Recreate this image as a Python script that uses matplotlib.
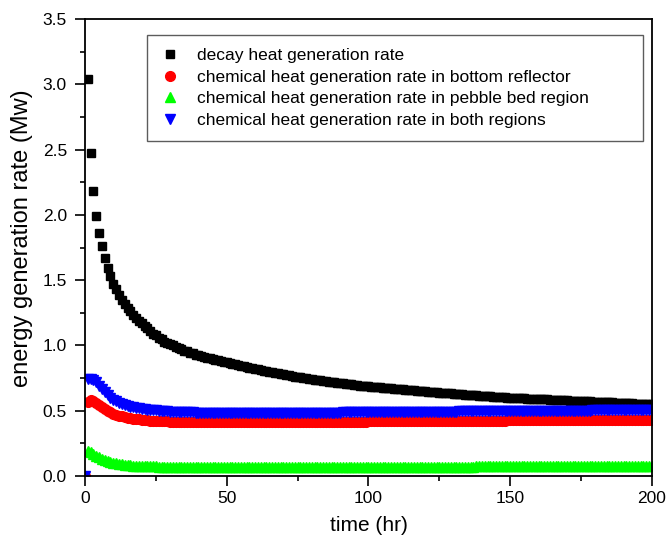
import matplotlib
matplotlib.use("Agg")
import matplotlib.pyplot as plt
from matplotlib.ticker import MultipleLocator

plt.rcParams['font.family'] = ['Liberation Sans', 'DejaVu Sans']

# time in hours
time_decay = list(range(1, 201))
time_chem = list(range(0, 201))

decay = [
    3.04, 2.47, 2.18, 1.99, 1.86, 1.76, 1.67, 1.59, 1.53, 1.47,
    1.43, 1.39, 1.35, 1.32, 1.29, 1.26, 1.23, 1.21, 1.19, 1.17,
    1.15, 1.13, 1.11, 1.09, 1.08, 1.06, 1.05, 1.03, 1.02, 1.01,
    1.00, 0.99, 0.98, 0.97, 0.96, 0.955, 0.945, 0.94, 0.93, 0.925,
    0.92, 0.91, 0.905, 0.90, 0.895, 0.89, 0.885, 0.88, 0.875, 0.87,
    0.865, 0.860, 0.855, 0.850, 0.845, 0.840, 0.835, 0.830, 0.825, 0.820,
    0.816, 0.812, 0.807, 0.803, 0.799, 0.795, 0.791, 0.786, 0.782, 0.778,
    0.774, 0.770, 0.766, 0.762, 0.758, 0.755, 0.751, 0.748, 0.745, 0.741,
    0.738, 0.735, 0.732, 0.729, 0.726, 0.723, 0.720, 0.717, 0.714, 0.711,
    0.709, 0.706, 0.703, 0.701, 0.698, 0.696, 0.693, 0.691, 0.689, 0.687,
    0.685, 0.683, 0.681, 0.679, 0.677, 0.675, 0.673, 0.671, 0.669, 0.667,
    0.665, 0.663, 0.661, 0.659, 0.657, 0.655, 0.653, 0.651, 0.650, 0.648,
    0.646, 0.644, 0.643, 0.641, 0.639, 0.637, 0.636, 0.634, 0.632, 0.631,
    0.629, 0.627, 0.626, 0.624, 0.622, 0.621, 0.619, 0.617, 0.616, 0.614,
    0.613, 0.611, 0.610, 0.608, 0.607, 0.605, 0.604, 0.602, 0.601, 0.599,
    0.598, 0.597, 0.596, 0.595, 0.594, 0.593, 0.592, 0.591, 0.590, 0.589,
    0.588, 0.587, 0.586, 0.585, 0.584, 0.583, 0.582, 0.581, 0.580, 0.579,
    0.578, 0.577, 0.576, 0.575, 0.574, 0.573, 0.572, 0.571, 0.570, 0.569,
    0.568, 0.567, 0.566, 0.565, 0.564, 0.563, 0.562, 0.561, 0.560, 0.559,
    0.558, 0.557, 0.556, 0.555, 0.554, 0.553, 0.552, 0.551, 0.550, 0.549,
]

bottom_reflector = [
    0.0,
    0.565, 0.580, 0.575, 0.560, 0.545, 0.525, 0.510, 0.497, 0.487, 0.478,
    0.470, 0.463, 0.457, 0.452, 0.448, 0.444, 0.440, 0.437, 0.434, 0.431,
    0.429, 0.427, 0.425, 0.423, 0.422, 0.421, 0.420, 0.419, 0.418, 0.417,
    0.417, 0.416, 0.416, 0.415, 0.415, 0.414, 0.414, 0.414, 0.413, 0.413,
    0.413, 0.412, 0.412, 0.412, 0.412, 0.411, 0.411, 0.411, 0.411, 0.411,
    0.411, 0.411, 0.411, 0.411, 0.411, 0.411, 0.411, 0.411, 0.411, 0.411,
    0.411, 0.411, 0.412, 0.412, 0.412, 0.412, 0.412, 0.412, 0.412, 0.413,
    0.413, 0.413, 0.413, 0.413, 0.413, 0.414, 0.414, 0.414, 0.414, 0.414,
    0.414, 0.415, 0.415, 0.415, 0.415, 0.415, 0.415, 0.416, 0.416, 0.416,
    0.416, 0.416, 0.416, 0.417, 0.417, 0.417, 0.417, 0.417, 0.417, 0.418,
    0.418, 0.418, 0.418, 0.418, 0.418, 0.419, 0.419, 0.419, 0.419, 0.419,
    0.419, 0.420, 0.420, 0.420, 0.420, 0.420, 0.420, 0.421, 0.421, 0.421,
    0.421, 0.421, 0.421, 0.422, 0.422, 0.422, 0.422, 0.422, 0.422, 0.423,
    0.423, 0.423, 0.423, 0.423, 0.423, 0.424, 0.424, 0.424, 0.424, 0.424,
    0.424, 0.425, 0.425, 0.425, 0.425, 0.425, 0.425, 0.425, 0.426, 0.426,
    0.426, 0.426, 0.426, 0.426, 0.426, 0.427, 0.427, 0.427, 0.427, 0.427,
    0.427, 0.427, 0.427, 0.428, 0.428, 0.428, 0.428, 0.428, 0.428, 0.428,
    0.428, 0.428, 0.429, 0.429, 0.429, 0.429, 0.429, 0.429, 0.429, 0.429,
    0.429, 0.429, 0.430, 0.430, 0.430, 0.430, 0.430, 0.430, 0.430, 0.430,
    0.430, 0.430, 0.430, 0.431, 0.431, 0.431, 0.431, 0.431, 0.431, 0.431,
]

pebble_bed = [
    0.0,
    0.195, 0.180, 0.165, 0.155, 0.143, 0.133, 0.124, 0.116, 0.109, 0.103,
    0.098, 0.094, 0.090, 0.087, 0.084, 0.082, 0.080, 0.078, 0.077, 0.076,
    0.075, 0.074, 0.074, 0.073, 0.073, 0.072, 0.072, 0.071, 0.071, 0.071,
    0.070, 0.070, 0.070, 0.070, 0.069, 0.069, 0.069, 0.069, 0.069, 0.069,
    0.068, 0.068, 0.068, 0.068, 0.068, 0.068, 0.068, 0.068, 0.068, 0.068,
    0.068, 0.068, 0.068, 0.068, 0.068, 0.068, 0.068, 0.068, 0.068, 0.068,
    0.068, 0.068, 0.068, 0.068, 0.068, 0.068, 0.068, 0.068, 0.068, 0.068,
    0.068, 0.068, 0.068, 0.068, 0.068, 0.068, 0.068, 0.068, 0.068, 0.068,
    0.068, 0.068, 0.068, 0.068, 0.068, 0.068, 0.068, 0.068, 0.068, 0.068,
    0.068, 0.068, 0.068, 0.068, 0.068, 0.069, 0.069, 0.069, 0.069, 0.069,
    0.069, 0.069, 0.069, 0.069, 0.069, 0.069, 0.069, 0.069, 0.069, 0.070,
    0.070, 0.070, 0.070, 0.070, 0.070, 0.070, 0.070, 0.070, 0.070, 0.071,
    0.071, 0.071, 0.071, 0.071, 0.071, 0.071, 0.071, 0.071, 0.072, 0.072,
    0.072, 0.072, 0.072, 0.072, 0.072, 0.072, 0.072, 0.073, 0.073, 0.073,
    0.073, 0.073, 0.073, 0.073, 0.073, 0.074, 0.074, 0.074, 0.074, 0.074,
    0.074, 0.074, 0.074, 0.074, 0.075, 0.075, 0.075, 0.075, 0.075, 0.075,
    0.075, 0.075, 0.075, 0.076, 0.076, 0.076, 0.076, 0.076, 0.076, 0.076,
    0.076, 0.076, 0.077, 0.077, 0.077, 0.077, 0.077, 0.077, 0.077, 0.077,
    0.077, 0.077, 0.078, 0.078, 0.078, 0.078, 0.078, 0.078, 0.078, 0.078,
    0.078, 0.078, 0.078, 0.079, 0.079, 0.079, 0.079, 0.079, 0.079, 0.079,
]

both_regions = [
    0.0,
    0.740, 0.745, 0.735, 0.720, 0.690, 0.665, 0.640, 0.620, 0.600, 0.585,
    0.572, 0.562, 0.553, 0.545, 0.538, 0.532, 0.527, 0.523, 0.519, 0.515,
    0.512, 0.509, 0.506, 0.504, 0.502, 0.500, 0.498, 0.497, 0.495, 0.494,
    0.493, 0.492, 0.491, 0.490, 0.489, 0.488, 0.487, 0.487, 0.486, 0.486,
    0.485, 0.485, 0.484, 0.484, 0.484, 0.483, 0.483, 0.483, 0.482, 0.482,
    0.482, 0.482, 0.481, 0.481, 0.481, 0.481, 0.481, 0.481, 0.481, 0.481,
    0.481, 0.481, 0.481, 0.481, 0.482, 0.482, 0.482, 0.482, 0.482, 0.482,
    0.483, 0.483, 0.483, 0.483, 0.483, 0.484, 0.484, 0.484, 0.484, 0.484,
    0.485, 0.485, 0.485, 0.485, 0.485, 0.486, 0.486, 0.486, 0.486, 0.486,
    0.487, 0.487, 0.487, 0.487, 0.487, 0.488, 0.488, 0.488, 0.488, 0.488,
    0.489, 0.489, 0.489, 0.489, 0.489, 0.490, 0.490, 0.490, 0.490, 0.490,
    0.491, 0.491, 0.491, 0.491, 0.491, 0.492, 0.492, 0.492, 0.492, 0.492,
    0.493, 0.493, 0.493, 0.493, 0.493, 0.494, 0.494, 0.494, 0.494, 0.494,
    0.494, 0.495, 0.495, 0.495, 0.495, 0.495, 0.495, 0.496, 0.496, 0.496,
    0.496, 0.496, 0.496, 0.497, 0.497, 0.497, 0.497, 0.497, 0.497, 0.498,
    0.498, 0.498, 0.498, 0.498, 0.498, 0.498, 0.499, 0.499, 0.499, 0.499,
    0.499, 0.499, 0.499, 0.500, 0.500, 0.500, 0.500, 0.500, 0.500, 0.500,
    0.501, 0.501, 0.501, 0.501, 0.501, 0.501, 0.501, 0.501, 0.502, 0.502,
    0.502, 0.502, 0.502, 0.502, 0.502, 0.502, 0.502, 0.503, 0.503, 0.503,
    0.503, 0.503, 0.503, 0.503, 0.503, 0.503, 0.503, 0.504, 0.504, 0.504,
]

labels = [
    "decay heat generation rate",
    "chemical heat generation rate in bottom reflector",
    "chemical heat generation rate in pebble bed region",
    "chemical heat generation rate in both regions",
]

fig = plt.figure(figsize=(6.67, 5.46), dpi=100)
ax = fig.add_axes([0.1274, 0.1282, 0.8501, 0.8370])

ax.plot(time_decay, decay, ls='none', marker='s', ms=6.3, color='black',
        mec='black', label=labels[0])
ax.plot(time_chem, bottom_reflector, ls='none', marker='o', ms=7.0, color='red',
        mec='red', label=labels[1])
ax.plot(time_chem, pebble_bed, ls='none', marker='^', ms=7.5, color='#00ff00',
        mec='#00ff00', label=labels[2])
ax.plot(time_chem, both_regions, ls='none', marker='v', ms=7.5, color='blue',
        mec='blue', label=labels[3])

ax.set_xlim(0, 200)
ax.set_ylim(0, 3.5)
ax.xaxis.set_major_locator(MultipleLocator(50))
ax.xaxis.set_minor_locator(MultipleLocator(25))
ax.yaxis.set_major_locator(MultipleLocator(0.5))
ax.yaxis.set_minor_locator(MultipleLocator(0.25))
ax.yaxis.set_major_formatter(matplotlib.ticker.FormatStrFormatter('%.1f'))

for s in ax.spines.values():
    s.set_linewidth(1.3)
ax.tick_params(which='major', direction='out', length=7, width=1.2,
               labelsize=12.5, top=False, right=False, pad=4)
ax.tick_params(axis='y', which='major', pad=6)
ax.tick_params(which='minor', direction='out', length=3.5, width=1.2,
               top=False, right=False)

ax.set_xlabel("time (hr)", fontsize=15, labelpad=7)
ax.set_ylabel("energy generation rate (Mw)", fontsize=17)
ax.yaxis.set_label_coords(-0.092, 0.52)

leg = ax.legend(loc='upper left', bbox_to_anchor=(0.109, 0.0, 0.8748, 0.965),
                mode='expand', borderaxespad=0,
                fontsize=12.5, frameon=True, fancybox=False, numpoints=1,
                handletextpad=0.92, labelspacing=0.37, borderpad=0.75,
                handlelength=1.2)
leg.get_frame().set_edgecolor('#333333')
leg.get_frame().set_linewidth(1.0)

fig.savefig("out.png", dpi=100)
